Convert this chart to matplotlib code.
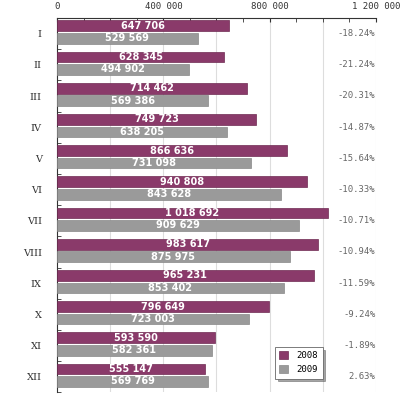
import matplotlib
matplotlib.use("Agg")
import matplotlib.pyplot as plt
import numpy as np

months = ["I", "II", "III", "IV", "V", "VI", "VII", "VIII", "IX", "X", "XI", "XII"]
v2008 = [647706, 628345, 714462, 749723, 866636, 940808, 1018692, 983617, 965231, 796649, 593590, 555147]
v2009 = [529569, 494902, 569386, 638205, 731098, 843628, 909629, 875975, 853402, 723003, 582361, 569769]
changes = ["-18.24%", "-21.24%", "-20.31%", "-14.87%", "-15.64%", "-10.33%", "-10.71%",
           "-10.94%", "-11.59%", "-9.24%", "-1.89%", "2.63%"]
xticks = [0, 400000, 800000, 1200000]
xtick_labels = ["0", "400 000", "800 000", "1 200 000"]

c08 = "#8a3a6a"
c09 = "#9a9a9a"

fig = plt.figure(figsize=(4, 4), dpi=100)
ax = fig.add_axes([0.1425, 0.019, 0.7975, 0.936])

y = np.arange(len(months))
h = 0.34
ax.barh(y - 0.25, v2008, height=h, color=c08, edgecolor="#6e2a52", linewidth=0.5, label="2008", zorder=3)
ax.barh(y + 0.15, v2009, height=h, color=c09, edgecolor="#888888", linewidth=0.5, label="2009", zorder=3)

def fmt(v):
    return f"{v:,}".replace(",", " ")

for i in range(len(months)):
    ax.text(v2008[i] / 2, y[i] - 0.25, fmt(v2008[i]), color="white", fontsize=7, fontweight="bold",
            ha="center", va="center", zorder=4)
    ax.text(v2009[i] / 2, y[i] + 0.15, fmt(v2009[i]), color="white", fontsize=7, fontweight="bold",
            ha="center", va="center", zorder=4)
    ax.text(1198000, y[i], changes[i], color="#666666", fontsize=6.4, family="DejaVu Sans Mono",
            ha="right", va="center", zorder=4)

ax.set_xlim(0, 1200000)
ax.set_ylim(len(months) - 0.5, -0.5)
ax.xaxis.tick_top()
ax.set_xticks(xticks)
ax.set_xticklabels(xtick_labels, family="DejaVu Sans Mono", fontsize=6.5, color="#333333")
ax.set_xticks(np.arange(0, 1200001, 100000), minor=True)
ax.tick_params(axis="x", which="both", direction="in", length=3, color="#333333", pad=5)
ax.set_yticks(y)
ax.set_yticklabels(months, family="DejaVu Serif", fontsize=7, color="#333333")
ax.set_yticks(np.arange(-0.5, len(months), 1), minor=True)
ax.tick_params(axis="y", which="major", length=0, pad=11)
ax.tick_params(axis="y", which="minor", direction="in", length=3, color="#333333")

for gx in np.arange(200000, 1200001, 200000):
    ax.axvline(gx, color="#dddddd", linewidth=0.8, zorder=1)

for s in ["right", "bottom"]:
    ax.spines[s].set_visible(False)
ax.spines["top"].set_color("#333333")
ax.spines["left"].set_color("#333333")
ax.spines["top"].set_linewidth(0.8)
ax.spines["left"].set_linewidth(0.8)

leg = ax.legend(loc="upper left", bbox_to_anchor=(0.683, 0.122), borderaxespad=0, fontsize=6.5,
                frameon=True, fancybox=False, shadow=True, handlelength=1.0, handleheight=1.0,
                borderpad=0.5, labelspacing=0.5, handletextpad=0.9)
leg.get_frame().set_edgecolor("#666666")
leg.get_frame().set_linewidth(0.6)
for t in leg.get_texts():
    t.set_family("DejaVu Sans Mono")

fig.savefig("out.png", dpi=100)
